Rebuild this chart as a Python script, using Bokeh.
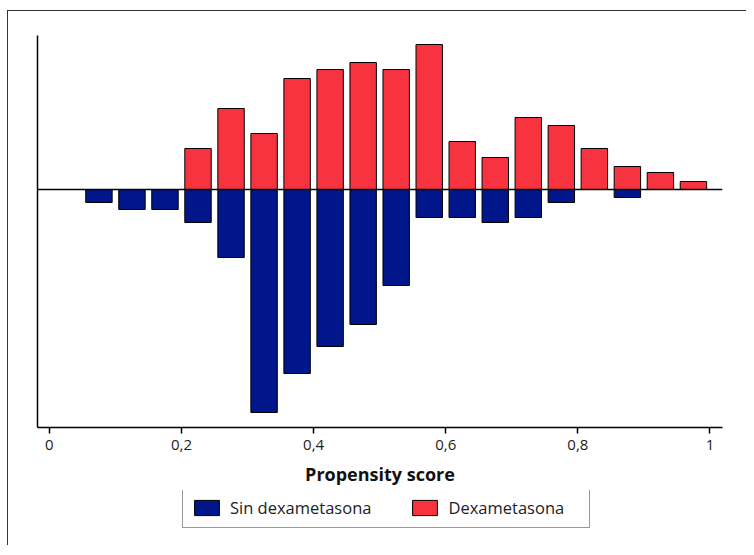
from bokeh.plotting import figure
from bokeh.layouts import column
from bokeh.models import (ColumnDataSource, Span, Legend, LegendItem, FixedTicker,
                          CustomJSTickFormatter, Range1d)
from bokeh.embed import file_html
from bokeh.resources import INLINE

# bin centres of the propensity score histogram
bin_centers = [0.075, 0.125, 0.175, 0.225, 0.275, 0.325, 0.375, 0.425, 0.475, 0.525,
               0.575, 0.625, 0.675, 0.725, 0.775, 0.825, 0.875, 0.925, 0.975]
# Sin dexametasona (drawn downwards)
sin_dexa = [13, 20, 20, 33, 68, 223, 184, 157, 135, 96, 28, 28, 33, 28, 13, 0, 8, 0, 0]
# Dexametasona (drawn upwards)
dexa = [0, 0, 0, 41, 81, 56, 111, 120, 127, 120, 145, 48, 32, 72, 64, 41, 23, 17, 8]
x_ticks = [0, 0.2, 0.4, 0.6, 0.8, 1]
series_labels = ["Sin dexametasona", "Dexametasona"]

FONT = "Open Sans"
BLUE = "#00168a"
RED = "#f73340"

LINE = "linear-gradient(#333333, #333333)"

src = ColumnDataSource(dict(x=bin_centers, neg=[-v for v in sin_dexa], pos=dexa))

# ---------------- main chart ----------------
p = figure(width=746, height=490, output_backend="svg", toolbar_location=None,
           x_range=Range1d(-0.018, 1.019), y_range=Range1d(-238, 154),
           min_border_left=37, min_border_top=35, min_border_right=24,
           min_border_bottom=63)
p.styles = {
    "background-image": f"{LINE}, {LINE}",
    "background-size": "1px 100%, 100% 1px",
    "background-position": "7px 10px, 7px 10px",
    "background-repeat": "no-repeat",
}
p.outline_line_color = None
p.border_fill_color = None
p.background_fill_color = None
p.grid.visible = False

p.vbar(x="x", top=0, bottom="neg", width=0.04, source=src,
       fill_color=BLUE, line_color="black", line_width=1)
p.vbar(x="x", top="pos", bottom=0, width=0.04, source=src,
       fill_color=RED, line_color="black", line_width=1)

p.add_layout(Span(location=0, dimension="width", line_color="black", line_width=1.5))

# left axis: line only
ya = p.yaxis[0]
ya.ticker = FixedTicker(ticks=[])
ya.major_tick_line_color = None
ya.minor_tick_line_color = None
ya.axis_line_width = 1.5
ya.axis_line_color = "black"

xa = p.xaxis[0]
xa.ticker = FixedTicker(ticks=x_ticks)
xa.formatter = CustomJSTickFormatter(code="return String(Math.round(tick*10)/10).replace('.', ',');")
xa.minor_tick_line_color = None
xa.major_tick_in = 0
xa.major_tick_out = 6
xa.major_tick_line_width = 1.5
xa.axis_line_width = 1.5
xa.axis_line_color = "black"
xa.major_label_text_font = FONT
xa.major_label_text_font_size = "15px"
xa.major_label_text_color = "#222222"
xa.major_label_standoff = 6
xa.axis_label = "Propensity score"
xa.axis_label_text_font = FONT
xa.axis_label_text_font_style = "bold"
xa.axis_label_text_font_size = "18px"
xa.axis_label_text_color = "#111111"
xa.axis_label_standoff = 9

# ---------------- legend strip ----------------
# the same series are drawn here outside the visible y-range, only to feed the legend
p2 = figure(width=746, height=55, output_backend="svg", toolbar_location=None,
            x_range=Range1d(0, 1), y_range=Range1d(1000, 1001),
            x_axis_location=None, y_axis_location=None,
            min_border_left=0, min_border_right=0, min_border_top=0, min_border_bottom=0)
p2.styles = {
    "background-image": LINE,
    "background-size": "1px 100%",
    "background-position": "7px 0px",
    "background-repeat": "no-repeat",
}
p2.outline_line_color = None
p2.border_fill_color = None
p2.background_fill_color = None
p2.grid.visible = False
lb = p2.vbar(x="x", top=0, bottom="neg", width=0.04, source=src,
             fill_color=BLUE, line_color="black", line_width=1)
lr = p2.vbar(x="x", top="pos", bottom=0, width=0.04, source=src,
             fill_color=RED, line_color="black", line_width=1)

legend = Legend(items=[LegendItem(label=series_labels[0], renderers=[lb]),
                       LegendItem(label=series_labels[1], renderers=[lr])],
                orientation="horizontal", location=(145, 17),
                label_text_font=FONT, label_text_font_size="16.5px", label_text_color="#222222",
                glyph_width=31, glyph_height=19, label_standoff=8, spacing=38,
                label_width=133, padding=8, margin=0,
                border_line_color="#333333", border_line_width=1,
                background_fill_color="white")
p2.add_layout(legend, "center")

layout = column(p, p2, spacing=0)

open("out.html", "w").write(file_html(layout, INLINE))
